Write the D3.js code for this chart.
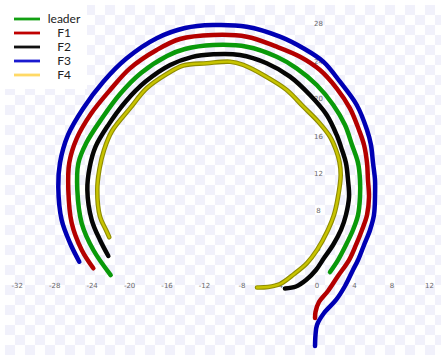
<!DOCTYPE html>
<html>
<head>
<meta charset="utf-8">
<script src="https://cdn.jsdelivr.net/npm/d3@7"></script>
<style>
  html, body { margin: 0; padding: 0; background: #fff; }
  svg { display: block; }
</style>
</head>
<body>
<svg id="chart" width="446" height="359"></svg>
<script>
// Trajectories (x, y) of the leader and four followers
const leader = [
  [-22.02, 1.17], [-23.87, 3.84], [-25.11, 6.69], [-25.58, 10.25], [-25.47, 13.09],
  [-24.61, 15.28], [-23.00, 17.82], [-21.02, 20.49], [-18.78, 22.73], [-16.01, 24.55],
  [-14.09, 25.29], [-11.07, 25.72], [-7.50, 25.54], [-4.30, 24.47], [-2.17, 23.23],
  [-0.03, 21.45], [1.74, 19.32], [2.99, 17.18], [3.74, 15.05], [4.38, 13.13],
  [4.59, 11.31], [4.59, 9.50], [4.38, 7.58], [3.84, 5.98], [3.09, 4.38],
  [2.24, 2.77], [1.39, 1.49]
];
const f1 = [
  [-23.87, 1.89], [-25.11, 3.84], [-26.18, 6.72], [-26.54, 10.25], [-26.44, 13.13],
  [-25.65, 15.72], [-24.10, 18.40], [-22.06, 20.94], [-19.96, 23.23], [-17.11, 25.19],
  [-14.62, 26.36], [-11.07, 26.79], [-7.50, 26.61], [-4.30, 25.54], [-1.81, 24.47],
  [0.32, 23.05], [2.10, 21.10], [3.52, 18.96], [4.48, 16.65], [5.02, 15.05],
  [5.34, 13.13], [5.44, 11.31], [5.55, 9.50], [5.34, 7.58], [4.80, 5.98],
  [4.16, 4.38], [3.42, 2.77], [2.24, 1.07], [1.17, -0.53], [0.21, -1.71],
  [-0.16, -2.77], [-0.21, -3.42]
];
const f2 = [
  [-22.27, 3.20], [-23.16, 4.91], [-24.04, 7.04], [-24.51, 10.25], [-24.26, 12.68],
  [-23.63, 14.87], [-22.28, 17.17], [-20.41, 19.69], [-18.26, 21.84], [-15.67, 23.59],
  [-13.38, 24.43], [-11.07, 24.73], [-8.22, 24.65], [-5.37, 23.77], [-2.88, 22.34],
  [-0.75, 20.38], [1.04, 18.25], [2.10, 16.12], [2.67, 14.51], [3.09, 13.13],
  [3.31, 11.31], [3.42, 9.50], [3.09, 7.58], [2.56, 5.98], [1.71, 4.38],
  [0.75, 2.99], [-0.11, 1.71], [-1.17, 0.64], [-2.24, -0.05], [-3.42, -0.27]
];
const f3 = [
  [-25.37, 2.59], [-26.36, 4.59], [-27.25, 7.04], [-27.61, 10.57], [-27.43, 13.13],
  [-26.57, 16.12], [-24.94, 18.97], [-22.81, 21.80], [-20.31, 24.30], [-17.11, 26.44],
  [-14.09, 27.53], [-11.10, 27.85], [-7.50, 27.67], [-3.95, 26.61], [-1.46, 25.37],
  [0.67, 23.94], [2.45, 21.80], [4.24, 19.32], [5.34, 16.65], [5.76, 15.05],
  [5.98, 13.13], [6.19, 11.31], [6.19, 9.50], [6.08, 7.58], [5.66, 5.98],
  [5.02, 4.38], [4.38, 2.77], [3.84, 1.71], [2.99, 0.00], [2.03, -1.49],
  [0.75, -2.88], [0.00, -4.16], [-0.16, -5.23], [-0.21, -6.40]
];
const f4 = [
  [-22.17, 5.20], [-22.52, 5.98], [-23.16, 7.40], [-23.45, 10.25], [-23.21, 12.53],
  [-22.73, 14.51], [-21.88, 16.54], [-19.96, 18.96], [-18.18, 21.10], [-16.04, 22.63],
  [-14.27, 23.53], [-11.77, 23.77], [-9.28, 23.94], [-7.87, 23.59], [-5.55, 22.41],
  [-3.23, 20.92], [-1.46, 19.14], [0.14, 17.53], [1.39, 15.93], [2.03, 14.51],
  [2.40, 13.23], [2.53, 11.85], [2.24, 9.50], [1.81, 7.58], [1.17, 5.98],
  [0.00, 3.84], [-1.07, 2.45], [-2.45, 1.28], [-3.95, 0.21], [-5.23, -0.11],
  [-6.40, -0.16]
];

const seriesNames = ["leader", "F1", "F2", "F3", "F4"];
const seriesData = [leader, f1, f2, f3, f4];
const lineColors = ["#0a9a0a", "#b40000", "#050505", "#0000b4", "#c8c400"];
const legendColors = ["#12a012", "#c00000", "#111111", "#1a1ad0", "#ffd966"];

const xTicks = [-32, -28, -24, -20, -16, -12, -8, -4, 0, 4, 8, 12];
const yTicks = [0, 4, 8, 12, 16, 20, 24, 28];

const svg = d3.select("#chart");
const W = 446, H = 359;

// Equal-aspect scales: one unit is about 9.37 px on both axes
const k = 9.37, x0 = 317, y0 = 286;
const x = d3.scaleLinear().domain([-32, 12]).range([x0 - 32 * k, x0 + 12 * k]);
const y = d3.scaleLinear().domain([0, 28]).range([y0, y0 - 28 * k]);

// Checkered plot background
const defs = svg.append("defs");
const pat = defs.append("pattern")
  .attr("id", "checker").attr("patternUnits", "userSpaceOnUse")
  .attr("width", 20).attr("height", 20).attr("x", 5).attr("y", 5);
pat.append("rect").attr("width", 20).attr("height", 20).attr("fill", "#ffffff");
pat.append("rect").attr("width", 10).attr("height", 10).attr("fill", "#f1f1fb");
pat.append("rect").attr("x", 10).attr("y", 10).attr("width", 10).attr("height", 10).attr("fill", "#f1f1fb");

svg.append("rect").attr("x", 5).attr("y", 5).attr("width", W - 10).attr("height", H - 9)
  .attr("fill", "url(#checker)");

// Tick labels (drawn under the trajectories)
const tickFont = "DejaVu Sans, sans-serif";
svg.append("g").selectAll("text").data(xTicks).join("text")
  .attr("x", d => x(d)).attr("y", y(0)).attr("dy", "0.35em")
  .attr("text-anchor", "middle")
  .attr("font-family", tickFont).attr("font-size", 7).attr("fill", "#6a6a6a")
  .text(d => d);
svg.append("g").selectAll("text").data(yTicks.filter(d => d !== 0)).join("text")
  .attr("x", x(0) + 1.5).attr("y", d => y(d)).attr("dy", "0.35em")
  .attr("text-anchor", "middle")
  .attr("font-family", tickFont).attr("font-size", 7).attr("fill", "#6a6a6a")
  .text(d => d);

// Trajectories
const line = d3.line().x(d => x(d[0])).y(d => y(d[1])).curve(d3.curveCatmullRom.alpha(0.5));
const g = svg.append("g").attr("fill", "none").attr("stroke-linecap", "round").attr("stroke-linejoin", "round");

// F4 gets a darker rim with a yellow core
g.append("path").datum(f4).attr("d", line).attr("stroke", "#8f8c00").attr("stroke-width", 4.6);
g.append("path").datum(f4).attr("d", line).attr("stroke", lineColors[4]).attr("stroke-width", 2.4);

[0, 1, 2, 3].forEach(i => {
  g.append("path").datum(seriesData[i]).attr("d", line)
    .attr("stroke", lineColors[i]).attr("stroke-width", 4.5);
});

// Legend
const legend = svg.append("g");
legend.append("rect").attr("x", 5).attr("y", 5).attr("width", 82).attr("height", 84).attr("fill", "#ffffff");
const rowY = [19, 33, 47, 61, 75];
seriesNames.forEach((name, i) => {
  legend.append("line")
    .attr("x1", 14).attr("x2", 40).attr("y1", rowY[i]).attr("y2", rowY[i])
    .attr("stroke", legendColors[i]).attr("stroke-width", 2.8);
  legend.append("text")
    .attr("x", 64).attr("y", rowY[i]).attr("dy", "0.35em")
    .attr("text-anchor", "middle")
    .attr("font-family", "Lato, 'Open Sans', sans-serif").attr("font-size", 12)
    .attr("fill", "#222")
    .text(name);
});
</script>
</body>
</html>
